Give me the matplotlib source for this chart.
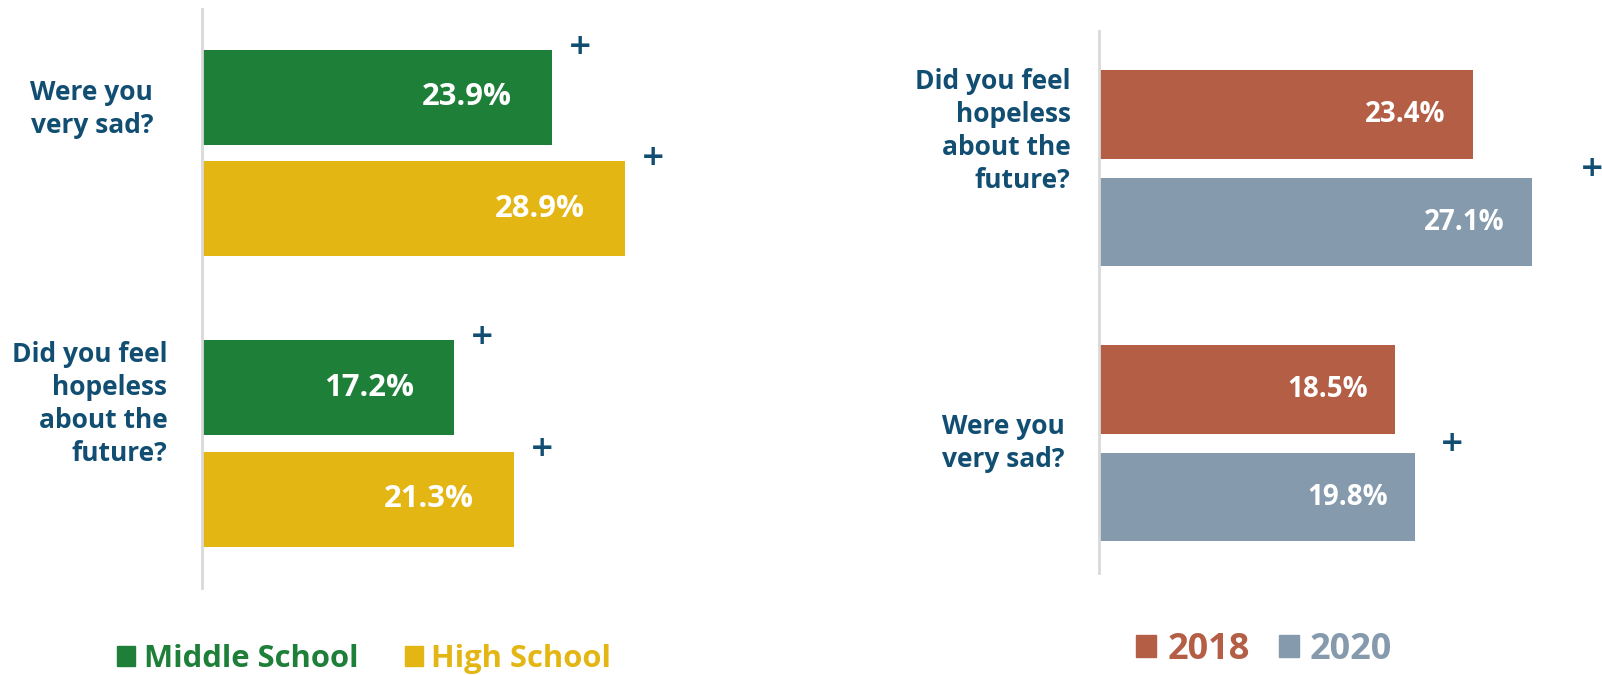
import matplotlib
matplotlib.use("Agg")
import matplotlib.pyplot as plt
from matplotlib.patches import Patch

# ---------------- data ----------------
left_questions = ["Were you\nvery sad?", "Did you feel\nhopeless\nabout the\nfuture?"]
left_series = ["Middle School", "High School"]
left_middle = [23.9, 17.2]
left_high = [28.9, 21.3]
left_sig = [[True, True], [True, True]]  # plus marks per bar

right_questions = ["Did you feel\nhopeless\nabout the\nfuture?", "Were you\nvery sad?"]
right_series = ["2018", "2020"]
right_2018 = [23.4, 18.5]
right_2020 = [27.1, 19.8]
right_sig = [True, True]  # plus mark per group

# ---------------- style ----------------
TXT = "#114E72"
GREEN = "#1E7F39"
YELLOW = "#E3B613"
RUST = "#B35E45"
SLATE = "#869AAD"
AXIS = "#D9D9D9"
FONT = "Open Sans"

W, H = 1602, 675
fig = plt.figure(figsize=(W / 100, H / 100), dpi=100)


def px_axes(x0, y_top, y_bot, width):
    return fig.add_axes([x0 / W, 1 - y_bot / H, width / W, (y_bot - y_top) / H])


def style_axes(ax):
    for s in ["top", "right", "bottom"]:
        ax.spines[s].set_visible(False)
    ax.spines["left"].set_color(AXIS)
    ax.spines["left"].set_linewidth(2)
    ax.set_xticks([])
    ax.set_yticks([])
    ax.patch.set_alpha(0)


# ---------------- left panel ----------------
axL = px_axes(201.8, 8.6, 588, 700)
axL.set_xlim(0, 700 / 14.645)
axL.set_ylim(1.497, -0.497)
style_axes(axL)

bh = 0.327
off = 0.192
for gi in range(len(left_questions)):
    for si, (vals, col) in enumerate([(left_middle, GREEN), (left_high, YELLOW)]):
        y = gi + (-off if si == 0 else off)
        v = vals[gi]
        axL.barh(y, v, height=bh, color=col, edgecolor="none")
        axL.annotate(f"{v:.1f}%", xy=(v, y), xytext=(-40, 0), textcoords="offset pixels",
                     ha="right", va="center", color="white", fontsize=22.3,
                     fontweight="bold", family=FONT)
        if left_sig[gi][si]:
            axL.annotate("+", xy=(v, y - bh / 2), xytext=(28, 4), textcoords="offset pixels",
                         ha="center", va="center", color=TXT, fontsize=21,
                         fontweight="bold", family="DejaVu Sans", annotation_clip=False)

left_label_pos = [(-3.33, -0.152), (-2.35, 0.8636)]
for q, (lx, ly) in zip(left_questions, left_label_pos):
    axL.text(lx, ly, q, ha="right", va="center", multialignment="right",
             color=TXT, fontsize=19, fontweight="bold", family=FONT,
             linespacing=1.3)

# ---------------- right panel ----------------
axR = px_axes(1099.4, 31, 572.6, 502.6)
axR.set_xlim(0, 502.6 / 15.96)
axR.set_ylim(1.4705, -0.499)
style_axes(axR)

bh2 = 0.322
off2 = 0.196
plus_dx = [60, 37]
for gi in range(len(right_questions)):
    for si, (vals, col) in enumerate([(right_2018, RUST), (right_2020, SLATE)]):
        y = gi + (-off2 if si == 0 else off2)
        v = vals[gi]
        axR.barh(y, v, height=bh2, color=col, edgecolor="none")
        axR.annotate(f"{v:.1f}%", xy=(v, y), xytext=(-27, 0), textcoords="offset pixels",
                     ha="right", va="center", color="white", fontsize=20,
                     fontweight="bold", family=FONT)
    if right_sig[gi]:
        vmax = max(right_2018[gi], right_2020[gi])
        axR.annotate("+", xy=(vmax, gi), xytext=(plus_dx[gi], 0), textcoords="offset pixels",
                     ha="center", va="center", color=TXT, fontsize=21,
                     fontweight="bold", family="DejaVu Sans", annotation_clip=False)

right_label_pos = [(-1.80, -0.1355), (-2.16, 0.9987)]
for q, (lx, ly) in zip(right_questions, right_label_pos):
    axR.text(lx, ly, q, ha="right", va="center", multialignment="right",
             color=TXT, fontsize=19, fontweight="bold", family=FONT,
             linespacing=1.3)

# ---------------- legends ----------------
legL = fig.legend(handles=[Patch(color=GREEN), Patch(color=YELLOW)], labels=left_series,
                  loc="center", bbox_to_anchor=(364 / W, 1 - 659 / H), ncol=2,
                  frameon=False, borderpad=0, handlelength=0.58, handleheight=0.58,
                  handletextpad=0.29, columnspacing=1.5,
                  prop={"family": FONT, "weight": "bold", "size": 22.3})
for t, c in zip(legL.get_texts(), [GREEN, YELLOW]):
    t.set_color(c)

legR = fig.legend(handles=[Patch(color=RUST), Patch(color=SLATE)], labels=right_series,
                  loc="center", bbox_to_anchor=(1264 / W, 1 - 650 / H), ncol=2,
                  frameon=False, borderpad=0, handlelength=0.56, handleheight=0.56,
                  handletextpad=0.3, columnspacing=0.8,
                  prop={"family": FONT, "weight": "bold", "size": 26})
for t, c in zip(legR.get_texts(), [RUST, SLATE]):
    t.set_color(c)

fig.savefig("out.png", dpi=100)
